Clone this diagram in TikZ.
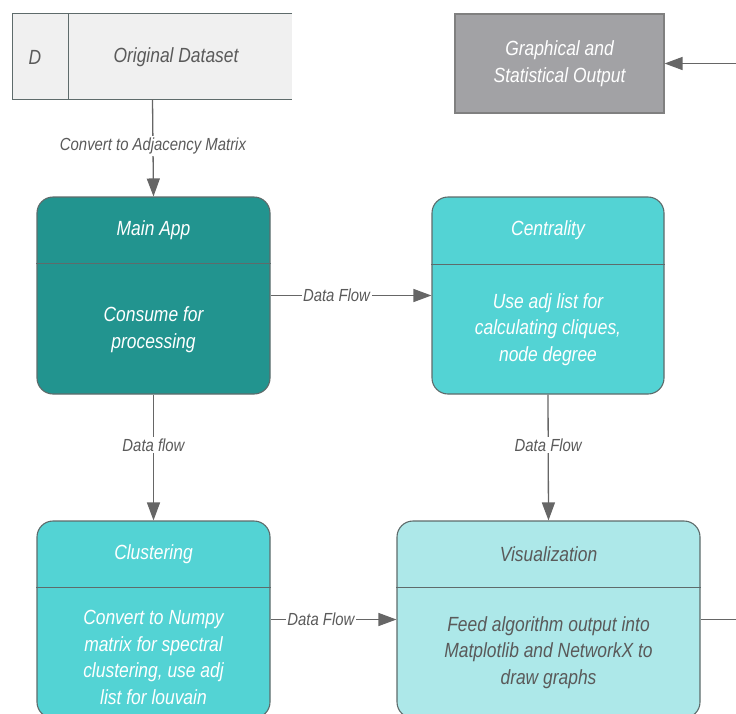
\documentclass[tikz,border=0pt]{standalone}
\usepackage{fontspec}
\setmainfont{Liberation Sans}[FakeStretch=0.85]
\usetikzlibrary{arrows.meta}
\definecolor{lineg}{HTML}{666666}
\definecolor{boxline}{HTML}{5E6B6B}
\definecolor{textg}{HTML}{5A5A5A}
\definecolor{datafill}{HTML}{F0F0F0}
\definecolor{outfill}{HTML}{A2A2A5}
\definecolor{mainfill}{HTML}{22948F}
\definecolor{midfill}{HTML}{53D3D4}
\definecolor{visfill}{HTML}{ADE8E9}

\begin{document}
\begin{tikzpicture}[x=1pt,y=-1pt]
        \tikzstyle{every node}+=[inner sep=0pt]
        \tikzstyle{box}=[draw=boxline, line width=1.1pt, rounded corners=16pt, minimum width=233pt, minimum height=197pt]
        \tikzstyle{big}=[font=\fontsize{20.5}{26.7}\selectfont\itshape, align=center]
        \tikzstyle{lab}=[font=\fontsize{17.5}{20}\selectfont\itshape, text=textg, fill=white, inner sep=1.5pt]
        \tikzstyle{flow}=[draw=lineg, line width=1.3pt, -{Triangle[length=18pt,width=13pt]}]
        \useasboundingbox (0,0) rectangle (736,713);
        \clip (0,0) rectangle (736,713);
        \node [fill=datafill, minimum width=279pt, minimum height=85pt] (data) at (152.5,56.5) {};
        \draw [boxline, line width=1.1pt] (data.north east) -- (data.north west) -- (data.south west) -- (data.south east);
        \draw [boxline, line width=1.1pt] ([xshift=56pt]data.north west) -- ([xshift=56pt]data.south west);
        \node [big, text=textg] (dlet) at (35,57) {D};
        \node [big, text=textg] (dname) at (176,57) {Original Dataset};
        \node [draw=gray, line width=1.1pt, fill=outfill, minimum width=209pt, minimum height=99pt] (out) at (559.5,63.5) {};
        \node [big, text=white] (outtxt) at (out) {Graphical and\\Statistical Output};
        \node [box, fill=mainfill] (main) at (153.5,295.5) {};
        \draw [boxline, line width=1.1pt] ([yshift=-67pt]main.north west) -- ([yshift=-67pt]main.north east);
        \node [big, text=white] (maint) at ([yshift=-34pt]main.north) {Main App};
        \node [big, text=white] (mainb) at ([yshift=-133pt]main.north) {Consume for\\processing};
        \node [box, fill=midfill, minimum width=232pt] (cent) at (548,295.5) {};
        \draw [boxline, line width=1.1pt] ([yshift=-68pt]cent.north west) -- ([yshift=-68pt]cent.north east);
        \node [big, text=white] (centt) at ([yshift=-34pt]cent.north) {Centrality};
        \node [big, text=white] (centb) at ([yshift=-133pt]cent.north) {Use adj list for\\calculating cliques,\\node degree};
        \node [box, fill=midfill] (clus) at (153.5,619.5) {};
        \draw [boxline, line width=1.1pt] ([yshift=-67pt]clus.north west) -- ([yshift=-67pt]clus.north east);
        \node [big, text=white] (clust) at ([yshift=-34pt]clus.north) {Clustering};
        \node [big, text=white] (clusb) at ([yshift=-137pt]clus.north) {Convert to Numpy\\matrix for spectral\\clustering, use adj\\list for louvain};
        \node [box, fill=visfill, minimum width=303pt] (vis) at (548.5,619.5) {};
        \draw [boxline, line width=1.1pt] ([yshift=-67pt]vis.north west) -- ([yshift=-67pt]vis.north east);
        \node [big, text=textg] (vist) at ([yshift=-34pt]vis.north) {Visualization};
        \node [big, text=textg] (visb) at ([yshift=-132pt]vis.north) {Feed algorithm output into\\Matplotlib and NetworkX to\\draw graphs};
        \draw [flow] (data.south) -- node [lab, pos=0.48] {Convert to Adjacency Matrix} (main.north);
        \draw [flow] (main.east) -- node [lab, pos=0.41] {Data Flow} (cent.west);
        \draw [flow] (main.south) -- node [lab, pos=0.4] {Data flow} (clus.north);
        \draw [flow] (cent.south) -- node [lab, pos=0.4] {Data Flow} (vis.north);
        \draw [flow] (clus.east) -- node [lab, pos=0.4] {Data Flow} (vis.west);
        \draw [flow] (vis.east) -- ++(60,0) |- (out.east);
\end{tikzpicture}
\end{document}
